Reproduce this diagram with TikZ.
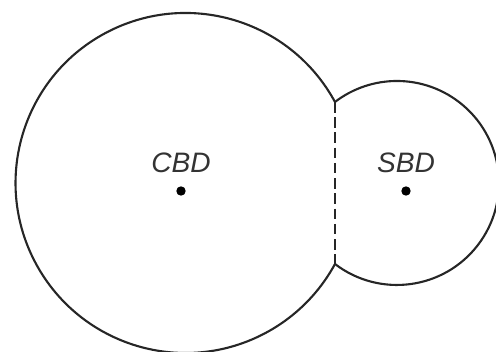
\documentclass[tikz,border=0pt]{standalone}
\usepackage{fontspec}
\setmainfont{Liberation Sans}
\usetikzlibrary{positioning}

\tikzset{
    zone/.style={line width=1.8pt, draw=black!85},
    boundary/.style={line width=1.8pt, draw=black!85, dash pattern=on 9pt off 4pt},
    centre/.style={circle, fill=black, inner sep=0pt, minimum size=8pt},
    label/.style={font=\itshape\fontsize{24}{28}\selectfont, text=black!80}
}

\begin{document}
\begin{tikzpicture}[x=0.03cm, y=0.03cm]
    \useasboundingbox (0,0) rectangle (496,351);

    % Zone outlines
    \coordinate (top) at (335,249);
    \coordinate (bot) at (335,87);
    \draw[zone] (top) arc[start angle=28.45, end angle=331.55, radius=170];
    \draw[zone] (bot) arc[start angle=-127.4, end angle=127.4, radius=102];

    % Shared edge
    \draw[boundary] (top) -- (bot);

    % Centres
    \node[centre] (cbd) at (181,160) {};
    \node[centre] (sbd) at (406,160) {};
    \node[label, above=8pt of cbd] (cbdlabel) {CBD};
    \node[label, above=8pt of sbd] (sbdlabel) {SBD};

\end{tikzpicture}
\end{document}
